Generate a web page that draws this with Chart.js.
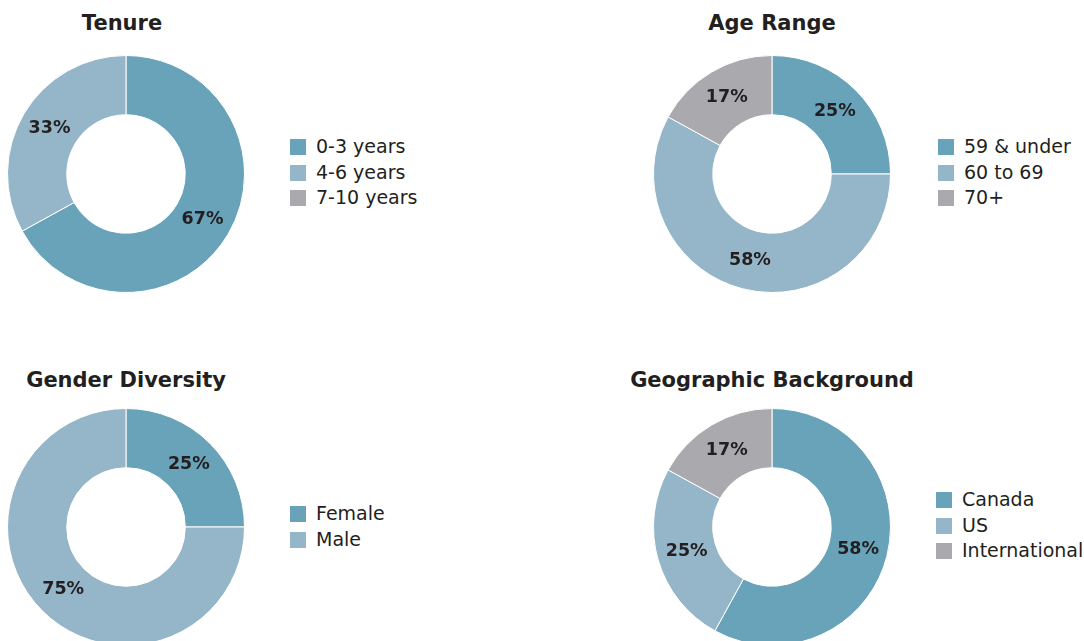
<!DOCTYPE html>
<html>
<head>
<meta charset="utf-8">
<script src="https://cdn.jsdelivr.net/npm/chart.js@4"></script>
<style>
    html, body { margin: 0; padding: 0; background: #fff; overflow: hidden; }
    body { width: 1084px; height: 641px; position: relative; font-family: "DejaVu Sans", Verdana, sans-serif; color: #231f20; }
    .title { position: absolute; width: 400px; text-align: center; font-weight: bold; font-size: 21px; line-height: 24px; }
    .donut { position: absolute; }
    .legend { position: absolute; font-size: 19px; line-height: 25.5px; }
    .legend div { white-space: nowrap; }
    .legend span { display: inline-block; width: 16px; height: 16px; margin-right: 10px; vertical-align: -2px; }
</style>
</head>
<body>
<div class="title" style="left:-78px; top:11px;">Tenure</div>
<div class="title" style="left:572px; top:11px;">Age Range</div>
<div class="title" style="left:-74px; top:368px;">Gender Diversity</div>
<div class="title" style="left:572px; top:368px;">Geographic Background</div>

<canvas id="tenure-chart" class="donut" width="240" height="240" style="left:6px; top:54px;"></canvas>
<canvas id="age-chart" class="donut" width="240" height="240" style="left:652px; top:54px;"></canvas>
<canvas id="gender-chart" class="donut" width="240" height="240" style="left:6px; top:407px;"></canvas>
<canvas id="geo-chart" class="donut" width="240" height="240" style="left:652px; top:407px;"></canvas>

<div id="tenure-legend" class="legend" style="left:290px; top:134px;"></div>
<div id="age-legend" class="legend" style="left:938px; top:134px;"></div>
<div id="gender-legend" class="legend" style="left:290px; top:501px;"></div>
<div id="geo-legend" class="legend" style="left:936px; top:487px;"></div>

<script>
// Data (percent of board)
const tenureLabels = ['0-3 years', '4-6 years', '7-10 years'];
const tenureValues = [67, 33, 0];

const ageLabels = ['59 & under', '60 to 69', '70+'];
const ageValues = [25, 58, 17];

const genderLabels = ['Female', 'Male'];
const genderValues = [25, 75];

const geoLabels = ['Canada', 'US', 'International'];
const geoValues = [58, 25, 17];

const sliceColors = ['#68a3b9', '#95b6c9', '#aaaaae'];

// draws the % value in the middle of each ring segment
const percentLabels = {
    id: 'percentLabels',
    afterDatasetsDraw(chart) {
        const ctx = chart.ctx;
        const meta = chart.getDatasetMeta(0);
        const values = chart.data.datasets[0].data;
        ctx.save();
        ctx.font = 'bold 17.5px "DejaVu Sans", Verdana, sans-serif';
        ctx.fillStyle = '#231f20';
        ctx.textAlign = 'center';
        ctx.textBaseline = 'middle';
        meta.data.forEach((arc, i) => {
            if (!values[i]) return;
            const pos = arc.tooltipPosition();
            ctx.fillText(values[i] + '%', pos.x, pos.y);
        });
        ctx.restore();
    }
};

function makeDonut(canvasId, legendId, labels, values) {
    const ctx = document.getElementById(canvasId).getContext('2d');
    new Chart(ctx, {
        type: 'doughnut',
        data: {
            labels: labels,
            datasets: [{
                data: values,
                backgroundColor: sliceColors.slice(0, labels.length),
                borderColor: '#ffffff',
                borderWidth: 1
            }]
        },
        options: {
            responsive: false,
            animation: false,
            cutout: '50%',
            layout: { padding: 1 },
            plugins: {
                legend: { display: false },
                tooltip: { enabled: false }
            }
        },
        plugins: [percentLabels]
    });

    const legend = document.getElementById(legendId);
    labels.forEach((label, i) => {
        const row = document.createElement('div');
        row.innerHTML = `<span style="background:${sliceColors[i]}"></span>${label}`;
        legend.appendChild(row);
    });
}

makeDonut('tenure-chart', 'tenure-legend', tenureLabels, tenureValues);
makeDonut('age-chart', 'age-legend', ageLabels, ageValues);
makeDonut('gender-chart', 'gender-legend', genderLabels, genderValues);
makeDonut('geo-chart', 'geo-legend', geoLabels, geoValues);
</script>
</body>
</html>
